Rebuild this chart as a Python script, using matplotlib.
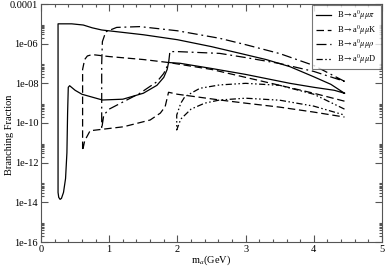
import numpy as np
import matplotlib
matplotlib.use('Agg')
import matplotlib.pyplot as plt
from matplotlib.ticker import FixedLocator, MultipleLocator, FixedFormatter

plt.rcParams['font.family'] = 'Liberation Serif'
plt.rcParams['mathtext.fontset'] = 'stix'

# contours: x = m_a (GeV), values = log10(branching fraction)
pi_x = [4.45, 4.25, 4.0, 3.65, 3.3, 2.92, 2.5, 2.0, 1.5, 0.89, 0.75, 0.62, 0.45, 0.25,
        0.25, 0.26, 0.28, 0.30, 0.33, 0.36, 0.38, 0.39, 0.40, 0.42, 0.5, 0.6, 0.9, 1.2,
        1.5, 1.7, 1.8, 1.85, 1.87, 2.04, 2.5, 3.0, 3.65, 4.0, 4.3, 4.45]
pi_log = [-8.5, -8.05, -7.67, -7.16, -6.8, -6.49, -6.15, -5.8, -5.55, -5.31, -5.2, -5.06, -5.0, -5.0,
          -13.5, -13.75, -13.85, -13.8, -13.5, -12.8, -11.5, -9.5, -8.2, -8.12, -8.35, -8.55, -8.84, -8.8,
          -8.5, -8.1, -7.7, -7.3, -6.95, -6.99, -7.25, -7.55, -8.0, -8.2, -8.35, -8.5]

k_x = [4.45, 4.0, 3.5, 3.0, 2.5, 1.87, 1.5, 1.0, 0.75, 0.68, 0.64, 0.61, 0.61,
       0.64, 0.72, 1.21, 1.6, 1.75, 1.82, 1.87, 2.0, 2.62, 3.0, 3.5, 4.0, 4.45]
k_log = [-8.9, -8.5, -8.1, -7.7, -7.3, -6.95, -6.8, -6.65, -6.55, -6.62, -6.8, -7.3, -11.4,
         -10.9, -10.39, -10.19, -9.85, -9.5, -9.18, -8.45, -8.55, -8.84, -9.0, -9.2, -9.45, -9.7]

rho_x = [4.45, 4.0, 3.5, 3.0, 2.62, 2.0, 1.45, 1.11, 0.95, 0.9, 0.89, 0.89,
         0.92, 1.0, 1.45, 1.7, 1.8, 1.87, 1.89, 2.0, 2.62, 3.0, 3.5, 4.0, 4.45]
rho_log = [-7.9, -7.1, -6.5, -6.05, -5.73, -5.35, -5.14, -5.18, -5.4, -5.9, -7.0, -10.3,
           -9.6, -9.3, -8.5, -7.92, -7.5, -7.0, -6.4, -6.4, -6.49, -6.7, -7.0, -7.4, -7.9]

d_x = [4.45, 4.0, 3.5, 3.0, 2.62, 2.33, 2.11, 2.05, 1.99, 1.99,
       2.05, 2.2, 2.4, 2.62, 3.0, 3.5, 4.0, 4.45]
d_log = [-9.3, -8.55, -8.1, -8.0, -8.08, -8.25, -8.67, -9.0, -9.6, -10.35,
         -9.8, -9.3, -9.0, -8.84, -8.75, -8.85, -9.15, -9.6]

labels = [r'B$\rightarrow$a$^0\mu\mu\pi$', r'B$\rightarrow$a$^0\mu\mu$K',
          r'B$\rightarrow$a$^0\mu\mu\rho$', r'B$\rightarrow$a$^0\mu\mu$D']
styles = ['-', (0, (6, 3)), (0, (8, 3, 1.5, 3)), (0, (5, 2, 1.2, 2, 1.2, 2))]

y_major = [1e-16, 1e-14, 1e-12, 1e-10, 1e-08, 1e-06, 1e-04]
y_major_labels = ['1e-16', '1e-14', '1e-12', '1e-10', '1e-08', '1e-06', '0.0001']

fig = plt.figure(figsize=(3.85, 2.67), dpi=100)
ax = fig.add_axes([41/385, 25/267, 341/385, 238/267])

series = [(pi_x, pi_log), (k_x, k_log), (rho_x, rho_log), (d_x, d_log)]
for (xs, ls), lab, st in zip(series, labels, styles):
    ax.plot(xs, 10**np.array(ls), color='black', lw=0.9, linestyle=st, label=lab)

ax.set_yscale('log')
ax.set_xlim(0, 5)
ax.set_ylim(1e-16, 1e-4)
ax.xaxis.set_major_locator(MultipleLocator(1))
ax.xaxis.set_minor_locator(MultipleLocator(0.2))
ax.yaxis.set_major_locator(FixedLocator(y_major))
ax.yaxis.set_major_formatter(FixedFormatter(y_major_labels))
minors = [m * v for v in y_major[:-1] for m in range(2, 10)]
ax.yaxis.set_minor_locator(FixedLocator(minors))
ax.yaxis.set_minor_formatter(FixedFormatter([''] * len(minors)))
ax.tick_params(which='both', direction='in', top=True, right=True, labelsize=7.5,
               width=0.8, color='#555555', pad=2)
ax.tick_params(which='major', length=5)
ax.tick_params(which='minor', length=2.5)
for s in ax.spines.values():
    s.set_linewidth(0.8)
    s.set_color('#555555')

ax.set_xlabel(r'm$_a$(GeV)', fontsize=7.5, labelpad=0)
ax.set_ylabel('Branching Fraction', fontsize=7.5)
ax.yaxis.set_label_coords(-0.08, 0.45)

leg = ax.legend(loc='upper right', fontsize=6, frameon=True, fancybox=False, edgecolor='#555555',
                handlelength=1.8, handletextpad=0.8, borderpad=0.45, labelspacing=0.12,
                borderaxespad=0.15)
leg.get_frame().set_linewidth(0.8)

fig.savefig('out.png', dpi=100)
